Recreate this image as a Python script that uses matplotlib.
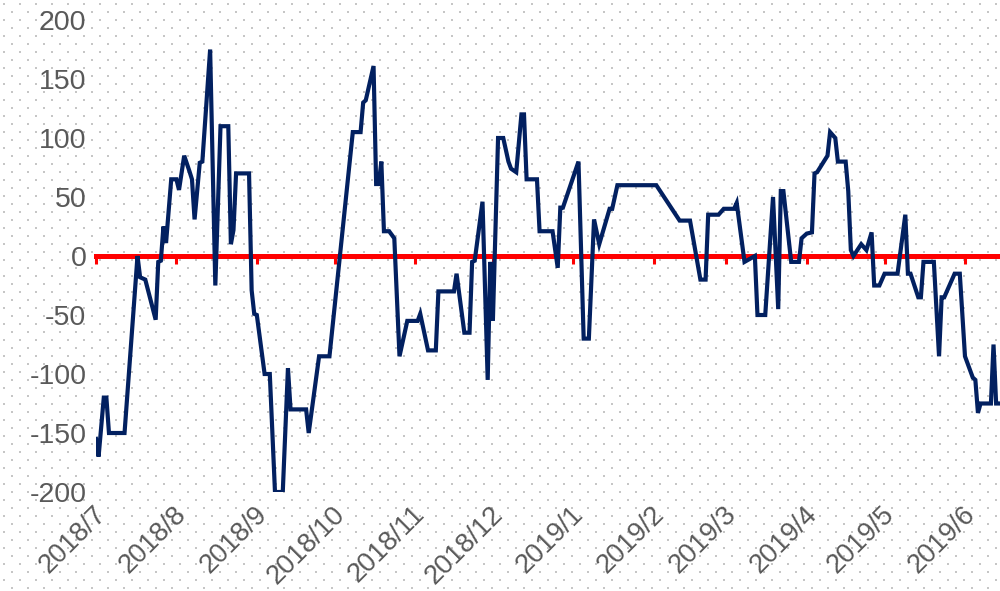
import numpy as np
import pandas as pd
import matplotlib
matplotlib.use("Agg")
import matplotlib.pyplot as plt
import matplotlib.dates as mdates
import matplotlib.transforms as mtransforms

dates = [
    "2018-07-01", "2018-07-02", "2018-07-04", "2018-07-05", "2018-07-06", "2018-07-12",
    "2018-07-17", "2018-07-18", "2018-07-20", "2018-07-24", "2018-07-25", "2018-07-26",
    "2018-07-27", "2018-07-28", "2018-07-30", "2018-08-01", "2018-08-02", "2018-08-04",
    "2018-08-06", "2018-08-07", "2018-08-08", "2018-08-10", "2018-08-11", "2018-08-14",
    "2018-08-16", "2018-08-18", "2018-08-21", "2018-08-22", "2018-08-23", "2018-08-24",
    "2018-08-29", "2018-08-30", "2018-08-31", "2018-09-01", "2018-09-04", "2018-09-06",
    "2018-09-08", "2018-09-11", "2018-09-13", "2018-09-14", "2018-09-20", "2018-09-21",
    "2018-09-25", "2018-09-29", "2018-10-08", "2018-10-11", "2018-10-12", "2018-10-13",
    "2018-10-16", "2018-10-17", "2018-10-18", "2018-10-19", "2018-10-20", "2018-10-22",
    "2018-10-24", "2018-10-26", "2018-10-29", "2018-11-02", "2018-11-03", "2018-11-06",
    "2018-11-09", "2018-11-10", "2018-11-16", "2018-11-17", "2018-11-20", "2018-11-22",
    "2018-11-23", "2018-11-24", "2018-11-27", "2018-11-29", "2018-11-30", "2018-12-01",
    "2018-12-03", "2018-12-05", "2018-12-07", "2018-12-08", "2018-12-10", "2018-12-12",
    "2018-12-13", "2018-12-14", "2018-12-18", "2018-12-19", "2018-12-24", "2018-12-26",
    "2018-12-27", "2018-12-28", "2019-01-03", "2019-01-05", "2019-01-07", "2019-01-09",
    "2019-01-11", "2019-01-15", "2019-01-16", "2019-01-18", "2019-02-02", "2019-02-11",
    "2019-02-15", "2019-02-19", "2019-02-21", "2019-02-22", "2019-02-26", "2019-02-28",
    "2019-03-04", "2019-03-05", "2019-03-08", "2019-03-12", "2019-03-13", "2019-03-16",
    "2019-03-19", "2019-03-21", "2019-03-22", "2019-03-23", "2019-03-26", "2019-03-29",
    "2019-03-30", "2019-04-01", "2019-04-03", "2019-04-04", "2019-04-05", "2019-04-09",
    "2019-04-10", "2019-04-12", "2019-04-13", "2019-04-16", "2019-04-17", "2019-04-18",
    "2019-04-19", "2019-04-22", "2019-04-24", "2019-04-26", "2019-04-27", "2019-04-29",
    "2019-05-01", "2019-05-06", "2019-05-09", "2019-05-10", "2019-05-11", "2019-05-14",
    "2019-05-15", "2019-05-16", "2019-05-20", "2019-05-22", "2019-05-23", "2019-05-24",
    "2019-05-28", "2019-05-30", "2019-06-01", "2019-06-04", "2019-06-05", "2019-06-06",
    "2019-06-07", "2019-06-11", "2019-06-12", "2019-06-13", "2019-06-14",
]

values = [
    -155, -170, -120, -120, -150, -150,
    0, -18, -20, -54, -5, -4,
    25, 11, 65, 65, 56, 85,
    72, 65, 31, 79, 80, 175,
    -25, 110, 110, 10, 22, 70,
    70, -29, -49, -50, -100, -100,
    -200, -200, -95, -130, -130, -150,
    -85, -85, 105, 105, 130, 132,
    161, 61, 61, 80, 21, 21,
    15, -85, -55, -55, -49, -80,
    -80, -30, -30, -15, -65, -65,
    -5, -4, 46, -105, -5, -55,
    100, 100, 80, 74, 71, 120,
    120, 65, 65, 21, 21, -10,
    41, 41, 80, -70, -70, 31,
    10, 40, 40, 60, 60, 30,
    30, -20, -20, 35, 35, 40,
    40, 45, -5, 0, -50, -50,
    50, -45, 55, 55, -5, -5,
    15, 19, 20, 70, 71, 85,
    105, 100, 80, 80, 55, 5,
    0, 10, 5, 20, -25, -25,
    -15, -15, 35, -15, -15, -35,
    -35, -5, -5, -85, -35, -35,
    -15, -15, -85, -103, -105, -133,
    -125, -125, -75, -125, -125,
]

month_ticks = ["2018-07-01", "2018-08-01", "2018-09-01", "2018-10-01", "2018-11-01",
               "2018-12-01", "2019-01-01", "2019-02-01", "2019-03-01", "2019-04-01",
               "2019-05-01", "2019-06-01"]
month_labels = ["2018/7", "2018/8", "2018/9", "2018/10", "2018/11", "2018/12",
                "2019/1", "2019/2", "2019/3", "2019/4", "2019/5", "2019/6"]
y_ticks = [-200, -150, -100, -50, 0, 50, 100, 150, 200]
y_labels = ["-200", "-150", "-100", "-50", "0", "50", "100", "150", "200"]

x = pd.to_datetime(dates)
ticks = pd.to_datetime(month_ticks)

W, H = 1000, 591
fig = plt.figure(figsize=(W / 100, H / 100), dpi=100)
fig.patch.set_facecolor("white")

# dotted pattern background over the whole figure
bg = fig.add_axes([0, 0, 1, 1], zorder=-5)
bg.set_xlim(0, W)
bg.set_ylim(H, 0)
bg.axis("off")
gx, gy = [], []
for r, yy in enumerate(np.arange(4, H, 8)):
    off = 0 if r % 2 == 0 else 8
    xs = np.arange(4 + off, W, 16)
    gx.extend(xs)
    gy.extend([yy] * len(xs))
bg.scatter(gx, gy, s=2.2, marker="s", color="#c6c6c6", linewidths=0)

ax = fig.add_axes([0.096, 1 - 492 / H, 0.904, 472 / H])
ax.patch.set_alpha(0)

ax.plot(x, values, color="#022060", lw=3.0, zorder=4, solid_joinstyle="miter")

ax.set_ylim(-200, 200)
ax.set_xlim(pd.Timestamp("2018-07-01"), pd.Timestamp("2019-06-14 12:00"))

for s in ["top", "right", "left"]:
    ax.spines[s].set_visible(False)
ax.spines["bottom"].set_position(("data", 0))
ax.spines["bottom"].set_color("#ff0000")
ax.spines["bottom"].set_linewidth(3.6)
ax.spines["bottom"].set_zorder(3)

ax.set_xticks(ticks)
ax.tick_params(axis="x", direction="out", length=5.5, width=2.2, color="#ff0000",
               labelbottom=False)
ax.set_yticks(y_ticks)
ax.set_yticklabels(y_labels)
ax.tick_params(axis="y", length=0, pad=7, labelsize=20.5, labelcolor="#595959")
for lab in ax.get_yticklabels():
    lab.set_fontfamily("Liberation Sans")

trans = mtransforms.blended_transform_factory(ax.transData, fig.transFigure)
offset = mtransforms.ScaledTranslation(-3 / 100, 0, fig.dpi_scale_trans)
for t, lab in zip(ticks, month_labels):
    ax.text(mdates.date2num(t), 1 - 501 / H, lab, transform=trans + offset,
            rotation=45, rotation_mode="anchor", ha="right", va="top",
            fontsize=19.5, color="#595959", family="Liberation Sans", clip_on=False)

fig.savefig("out.png", dpi=100, facecolor="white")
